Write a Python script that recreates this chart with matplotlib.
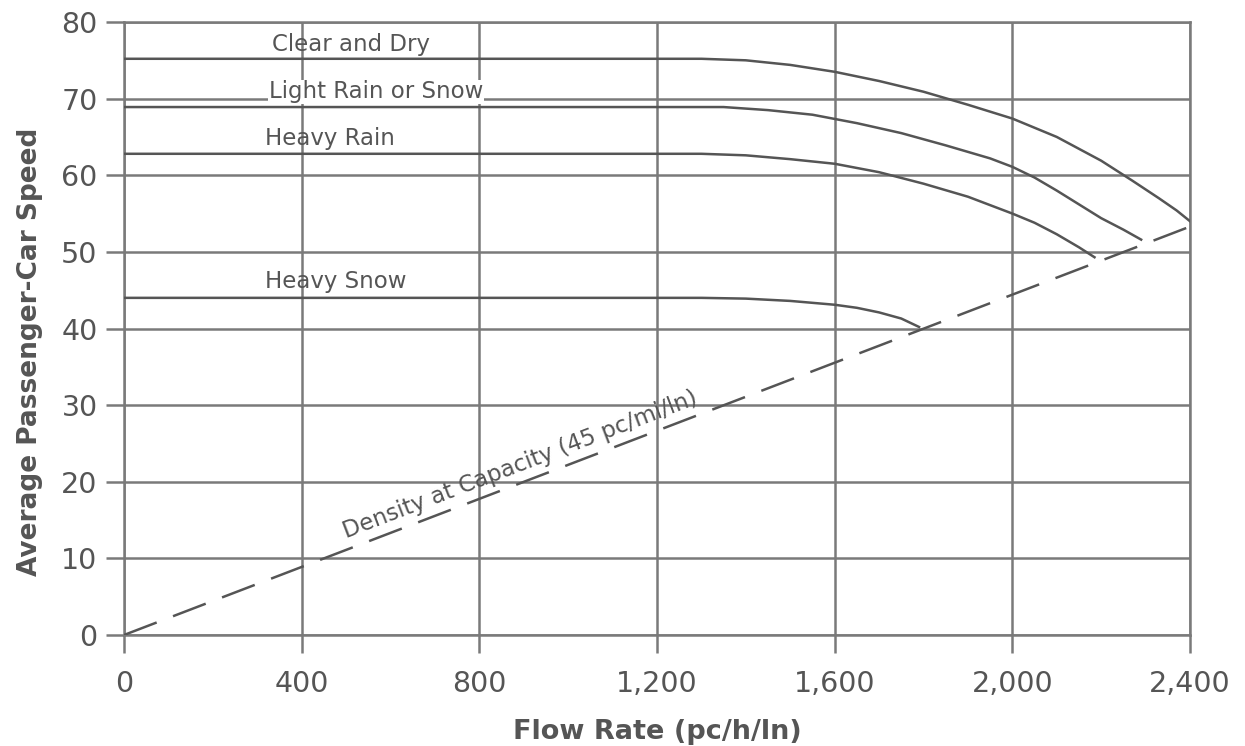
import matplotlib
matplotlib.use('Agg')
import matplotlib.pyplot as plt

# speed-flow curves (flow pc/h/ln, speed mph)
clear_x = [0, 1300, 1400, 1500, 1600, 1700, 1800, 1900, 2000, 2100, 2200, 2270, 2330, 2370, 2400]
clear_y = [75.2, 75.2, 75.0, 74.4, 73.5, 72.3, 70.9, 69.2, 67.4, 65.0, 61.9, 59.3, 57.0, 55.4, 54.0]

light_x = [0, 1350, 1450, 1550, 1650, 1750, 1850, 1950, 2000, 2050, 2100, 2150, 2200, 2250, 2290]
light_y = [68.9, 68.9, 68.5, 67.9, 66.8, 65.5, 63.9, 62.2, 61.1, 59.7, 58.0, 56.2, 54.4, 52.9, 51.6]

heavy_rain_x = [0, 1300, 1400, 1500, 1600, 1700, 1800, 1900, 2000, 2050, 2100, 2150, 2185]
heavy_rain_y = [62.8, 62.8, 62.6, 62.1, 61.5, 60.4, 58.9, 57.2, 55.0, 53.8, 52.3, 50.6, 49.3]

snow_x = [0, 1300, 1400, 1500, 1600, 1650, 1700, 1750, 1790]
snow_y = [44.0, 44.0, 43.9, 43.6, 43.1, 42.7, 42.1, 41.3, 40.2]

density_x = [0, 2400]
density_y = [0, 53.3]

x_ticks = [0, 400, 800, 1200, 1600, 2000, 2400]
x_ticklabels = ['0', '400', '800', '1,200', '1,600', '2,000', '2,400']
y_ticks = [0, 10, 20, 30, 40, 50, 60, 70, 80]

grid_c = '#7a7a7a'
line_c = '#555555'
text_c = '#555555'

fig = plt.figure(figsize=(12.45, 7.46), dpi=100)
ax = fig.add_axes([124 / 1245, 1 - 635 / 746, (1190 - 124) / 1245, (635 - 22) / 746])

ax.set_xlim(0, 2400)
ax.set_ylim(0, 80)
ax.set_xticks(x_ticks)
ax.set_xticklabels(x_ticklabels)
ax.set_yticks(y_ticks)
ax.grid(True, color=grid_c, lw=1.8, zorder=0)
ax.set_axisbelow(True)
for s in ax.spines.values():
    s.set_color(grid_c)
    s.set_linewidth(1.8)
ax.tick_params(direction='out', length=13, width=1.8, color=grid_c,
               labelcolor=text_c, labelsize=20.5)
ax.tick_params(axis='x', pad=12)
ax.tick_params(axis='y', pad=6)

ax.plot(clear_x, clear_y, color=line_c, lw=1.8, zorder=3)
ax.plot(light_x, light_y, color=line_c, lw=1.8, zorder=3)
ax.plot(heavy_rain_x, heavy_rain_y, color=line_c, lw=1.8, zorder=3)
ax.plot(snow_x, snow_y, color=line_c, lw=1.8, zorder=3)
ax.plot(density_x, density_y, color=line_c, lw=1.8, dashes=(14, 7), zorder=3)

box = dict(facecolor='white', edgecolor='none', pad=0.5)
ax.text(511, 77.0, 'Clear and Dry', fontsize=16.5, color=text_c, ha='center', va='center', zorder=2)
ax.text(567, 70.9, 'Light Rain or Snow', fontsize=16.5, color=text_c, ha='center', va='center',
        bbox=box, zorder=2)
ax.text(464, 64.75, 'Heavy Rain', fontsize=16.5, color=text_c, ha='center', va='center', zorder=2)
ax.text(477, 46.1, 'Heavy Snow', fontsize=16.5, color=text_c, ha='center', va='center', zorder=2)

ax.text(500, 12.6, 'Density at Capacity (45 pc/mi/ln)', fontsize=16.5, color=text_c,
        ha='left', va='baseline', rotation=1.27, rotation_mode='anchor',
        transform_rotates_text=True, zorder=4)

fig.text(0.528, 0.019, 'Flow Rate (pc/h/ln)', fontsize=19.5, fontweight='bold',
         color=text_c, ha='center', va='center')
fig.text(30 / 1245, 0.528, 'Average Passenger-Car Speed', fontsize=19, fontweight='bold',
         color=text_c, ha='center', va='center', rotation=90)

fig.savefig('out.png', dpi=100, facecolor='white')
